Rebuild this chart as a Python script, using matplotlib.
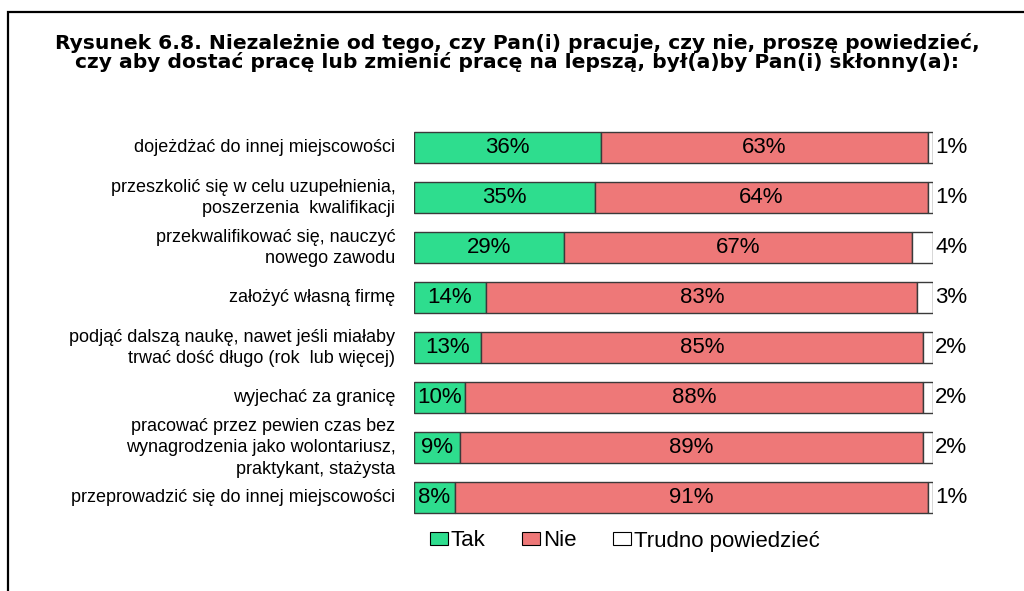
import matplotlib
matplotlib.use("Agg")
import matplotlib.pyplot as plt
from matplotlib.patches import Rectangle, Patch

plt.rcParams['font.family'] = ['Liberation Sans', 'DejaVu Sans']

title = ("Rysunek 6.8. Niezależnie od tego, czy Pan(i) pracuje, czy nie, proszę powiedzieć,\n"
         "czy aby dostać pracę lub zmienić pracę na lepszą, był(a)by Pan(i) skłonny(a):")

categories = [
    "dojeżdżać do innej miejscowości",
    "przeszkolić się w celu uzupełnienia,\nposzerzenia  kwalifikacji",
    "przekwalifikować się, nauczyć\nnowego zawodu",
    "założyć własną firmę",
    "podjąć dalszą naukę, nawet jeśli miałaby\ntrwać dość długo (rok  lub więcej)",
    "wyjechać za granicę",
    "pracować przez pewien czas bez\nwynagrodzenia jako wolontariusz,\npraktykant, stażysta",
    "przeprowadzić się do innej miejscowości",
]
tak = [36, 35, 29, 14, 13, 10, 9, 8]
nie = [63, 64, 67, 83, 85, 88, 89, 91]
trudno = [1, 1, 4, 3, 2, 2, 2, 1]
series_names = ["Tak", "Nie", "Trudno powiedzieć"]

c_tak = "#2EDD8E"
c_nie = "#EE7878"
c_tr = "#FFFFFF"
edge = "#3a3a3a"

W, H = 1024, 591
fig = plt.figure(figsize=(W / 100, H / 100), dpi=100)

# plot area in pixel coordinates
x0, x1 = 413.5, 933.0
y_top, y_bot = 122.8, 522.8
ax = fig.add_axes([x0 / W, 1 - y_bot / H, (x1 - x0) / W, (y_bot - y_top) / H])

ypos = list(range(len(categories)))
bh = 0.62
left_nie = tak
left_tr = [a + b for a, b in zip(tak, nie)]
ax.barh(ypos, tak, height=bh, color=c_tak, edgecolor=edge, linewidth=1.0)
ax.barh(ypos, nie, left=left_nie, height=bh, color=c_nie, edgecolor=edge, linewidth=1.0)
ax.barh(ypos, trudno, left=left_tr, height=bh, color=c_tr, edgecolor=edge, linewidth=1.0)

ax.set_xlim(0, 100)
ax.set_ylim(len(categories) - 0.5, -0.5)
ax.axis("off")

for i in ypos:
    ax.text(tak[i] / 2, i, f"{tak[i]}%", ha="center", va="center", fontsize=16)
    ax.text(left_nie[i] + nie[i] / 2, i, f"{nie[i]}%", ha="center", va="center", fontsize=16)
    ax.text(100.4, i, f"{trudno[i]}%", ha="left", va="center", fontsize=16)
    ax.text(-3.5, i, categories[i], ha="right", va="center", fontsize=13,
            multialignment="right", linespacing=1.34)

# two-line bold heading; va="baseline" anchors the baseline of the last line
fig.text(517 / W, 1 - 67.5 / H, title, ha="center", va="baseline", fontsize=14.6,
         fontweight="bold", family=["DejaVu Sans"], linespacing=0.92)

handles = [Patch(facecolor=c, edgecolor="black", linewidth=0.8) for c in (c_tak, c_nie, c_tr)]
fig.legend(handles, series_names, loc="center left", bbox_to_anchor=(430 / W, 1 - 541 / H),
           frameon=False, fontsize=16, ncol=3, handlelength=0.8, handleheight=0.54,
           handletextpad=0.14, columnspacing=1.65, borderpad=0, borderaxespad=0)

# outer frame
fig.patches.append(Rectangle((8 / W, -0.1), 1.2, 1 - 12 / H + 0.1, transform=fig.transFigure,
                             fill=False, edgecolor="black", linewidth=1.6, clip_on=False))

fig.savefig("out.png", dpi=100)
